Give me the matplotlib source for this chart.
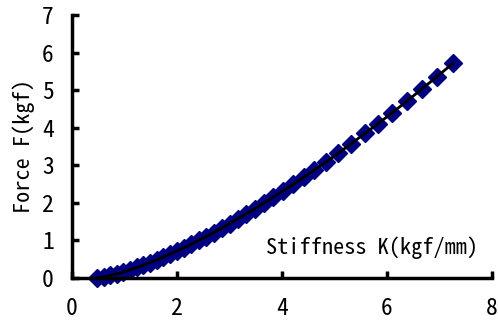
import matplotlib
matplotlib.use("Agg")
import matplotlib.pyplot as plt

plt.rcParams['font.family'] = ['Noto Sans Mono CJK JP', 'Noto Sans CJK JP', 'DejaVu Sans']

# stiffness K (kgf/mm) and force F (kgf)
stiffness = [0.48, 0.60, 0.73, 0.85, 0.98, 1.10, 1.23, 1.36, 1.48, 1.61,
             1.74, 1.87, 2.00, 2.13, 2.27, 2.41, 2.55, 2.70, 2.85, 3.00,
             3.16, 3.32, 3.49, 3.66, 3.83, 4.02, 4.21, 4.41, 4.61, 4.84,
             5.07, 5.31, 5.58, 5.83, 6.10, 6.38, 6.67, 6.95, 7.26]
force = [0.00, 0.03, 0.07, 0.11, 0.16, 0.21, 0.28, 0.34, 0.41, 0.48,
         0.56, 0.64, 0.72, 0.81, 0.90, 1.00, 1.10, 1.21, 1.33, 1.45,
         1.58, 1.71, 1.85, 2.00, 2.15, 2.32, 2.49, 2.68, 2.87, 3.09,
         3.32, 3.57, 3.85, 4.11, 4.40, 4.71, 5.04, 5.36, 5.72]

x_ticks = [0, 2, 4, 6, 8]
y_ticks = [0, 1, 2, 3, 4, 5, 6, 7]

fig = plt.figure(figsize=(4.98, 3.25), dpi=100)
ax = fig.add_axes([0.1446, 0.1446, 0.8434, 0.809])

ax.plot(stiffness, force, linestyle='none', marker='D', markersize=9,
        color='#000080', markeredgecolor='#000080', zorder=2, clip_on=False)
ax.plot(stiffness, force, color='black', linewidth=2, zorder=3, clip_on=False)

ax.set_xlim(0, 8)
ax.set_ylim(0, 7)
ax.set_xticks(x_ticks)
ax.set_yticks(y_ticks)

for side in ['top', 'right']:
    ax.spines[side].set_visible(False)
for side in ['left', 'bottom']:
    ax.spines[side].set_linewidth(2.5)
    ax.spines[side].set_capstyle('projecting')

ax.tick_params(direction='in', length=5, width=2.5, labelsize=17,
               colors='black')
ax.tick_params(axis='x', pad=14)
ax.tick_params(axis='y', pad=13)

ax.set_ylabel('Force F(kgf)', fontsize=16, labelpad=5)
ax.set_xlabel('Stiffness K(kgf/mm)', fontsize=16)
ax.xaxis.set_label_coords(0.714, 0.114)
ax.xaxis.label.set_va('center')

fig.savefig('out.png', dpi=100)
plt.close('all')
